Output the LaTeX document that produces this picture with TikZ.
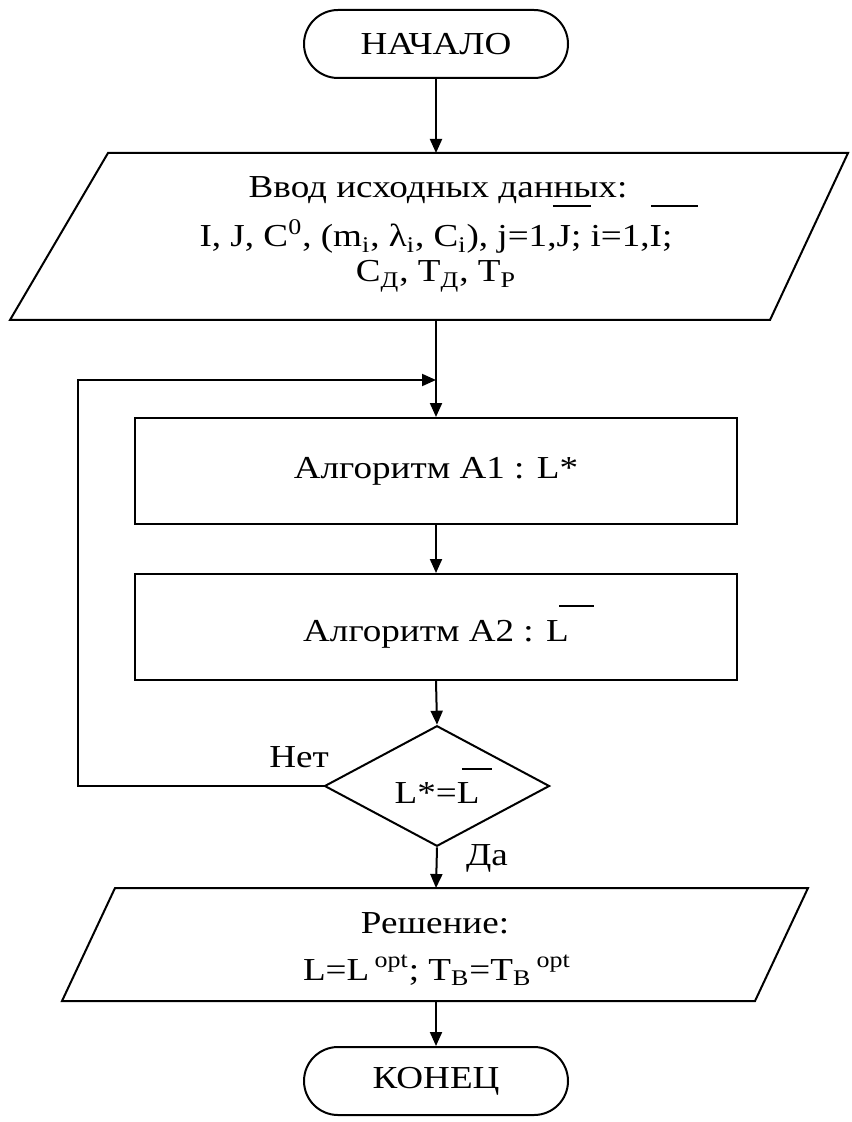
\documentclass[tikz,border=0pt]{standalone}
\usepackage{fontspec}
\setmainfont{Liberation Serif}[FakeStretch=1.16]
\usetikzlibrary{shapes.geometric,arrows.meta}
\newcommand\ovbar[3]{\rlap{\hspace{#1}\rule[#2]{#3}{0.9pt}}}
\begin{document}
\begin{tikzpicture}[x=0.5pt,y=-0.5pt,
  every node/.style={font=\fontsize{16}{24}\selectfont, inner sep=0pt},
  ln/.style={line width=1pt, draw=black},
  arr/.style={ln, -{Triangle[length=7pt,width=6pt]}},
  term/.style={ln, rounded corners=17pt, minimum width=132pt, minimum height=34pt},
  proc/.style={ln, rectangle, minimum width=301pt, minimum height=53pt},
  decis/.style={ln, diamond, minimum width=112.5pt, minimum height=55pt}]
\useasboundingbox[fill=white] (0,0) rectangle (851,1122);

% start
\node[term] (start) at (436,44) {НАЧАЛО};

% input parallelogram
\draw[ln] (108,153) -- (848,153) -- (770,320) -- (10,320) -- cycle;
\coordinate (inT) at (436,153);
\coordinate (inB) at (436,320);
\node[anchor=base] (in1) at (438,198) {Ввод исходных данных:};
\node[anchor=base] (in2) at (436,247) {I, J, C\textsuperscript{0}, (m\textsubscript{i}, λ\textsubscript{i}, C\textsubscript{i}), j=1,\ovbar{-0.12em}{1.25em}{1.2em}J; i=1,\ovbar{0.05em}{1.25em}{1.45em}I;};
\node[anchor=base] (in3) at (436,282) {C\textsubscript{Д}, T\textsubscript{Д}, T\textsubscript{P}};

% algorithms
\node[proc] (a1) at (436,471) {Алгоритм A1 : L*};
\node[proc] (a2) at (436,627) {Алгоритм A2 : L\ovbar{-0.3em}{1.08em}{1.1em}\hspace{0.9em}};

% decision
\node[decis] (dec) at (437,786) {L*=L\ovbar{-0.55em}{1.06em}{0.95em}\hspace{0.35em}};
\node (no) at (299,757) {Нет};
\node (yes) at (487,858) {Да};

% output parallelogram
\draw[ln] (115,888) -- (808,888) -- (755,1001) -- (62,1001) -- cycle;
\coordinate (outT) at (436,888);
\coordinate (outB) at (436,1001);
\node[anchor=base] (out1) at (435,933) {Решение:};
\node[anchor=base] (out2) at (437,980) {L=L\,\textsuperscript{opt}; T\textsubscript{B}=T\textsubscript{B}\,\textsuperscript{opt}};

% end
\node[term] (stop) at (436,1081) {КОНЕЦ};

% loop coordinates
\coordinate (lpA) at (78,786);
\coordinate (lpB) at (78,380);
\coordinate (lpC) at (436,380);

% connectors
\draw[arr] (start.south) -- (inT);
\draw[arr] (inB) -- (a1.north);
\draw[arr] (dec.west) -- (lpA) -- (lpB) -- (lpC);
\draw[arr] (a1.south) -- (a2.north);
\draw[arr] (a2.south) -- (dec.north);
\draw[arr] (dec.south) -- (outT);
\draw[arr] (outB) -- (stop.north);
\end{tikzpicture}
\end{document}
